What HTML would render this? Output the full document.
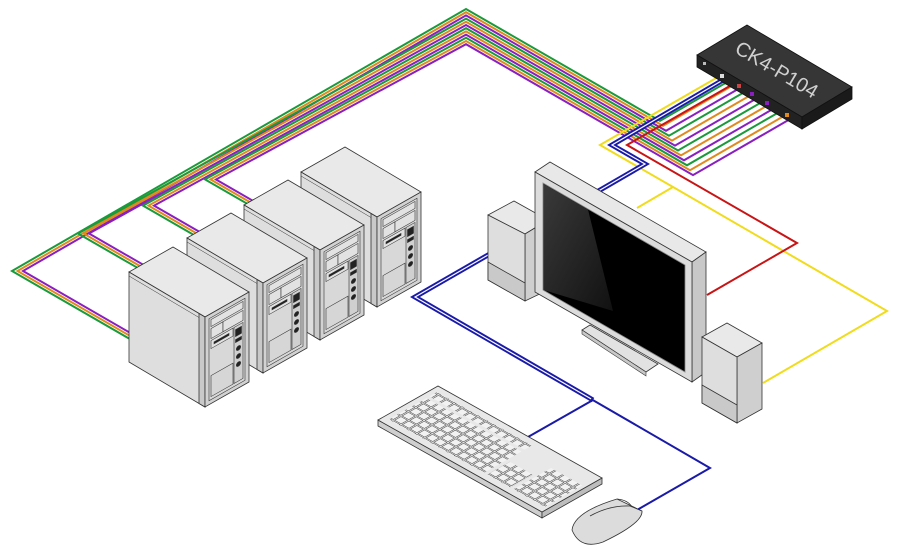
<!DOCTYPE html>
<html><head><meta charset="utf-8"><style>
html,body{margin:0;padding:0;background:#fff;}
svg{display:block;}
</style></head><body>
<svg width="900" height="556" viewBox="0 0 900 556" xmlns="http://www.w3.org/2000/svg">
<defs>
<pattern id="keys" patternUnits="userSpaceOnUse" width="4.8" height="5">
<rect x="0.4" y="0.4" width="4" height="4.2" fill="#f2f2f2" stroke="#333" stroke-width="0.3"/>
</pattern>
<linearGradient id="hl" x1="0" y1="0" x2="1" y2="1">
<stop offset="0" stop-color="#3a3a3a"/><stop offset="1" stop-color="#111"/>
</linearGradient>
</defs>

<!-- bundle cables -->
<g fill="none" stroke-width="2" stroke-linejoin="miter">
<path stroke="#1a9a3a" d="M129,338.5 L12,271 L466,9 L660,120.9 L725.7,82.9"/>
<path stroke="#e08a1e" d="M129,335.3 L17.5,271 L466,12.2 L663,125.8 L731.4,86.3"/>
<path stroke="#8a1fc0" d="M129,332.2 L23,271 L466,15.4 L666,130.8 L737.1,89.6"/>
<path stroke="#1a9a3a" d="M187,296.4 L78,233.5 L466,18.6 L669,135.7 L742.8,93"/>
<path stroke="#e08a1e" d="M187,293.2 L83.5,233.5 L466,21.8 L672,140.6 L748.5,96.4"/>
<path stroke="#8a1fc0" d="M187,290 L89,233.5 L466,25 L675,145.6 L754.3,99.8"/>
<path stroke="#1a9a3a" d="M244,263.9 L143,205.6 L466,28.2 L678,150.5 L760,103.1"/>
<path stroke="#e08a1e" d="M244,260.7 L148.5,205.6 L466,31.4 L681,155.4 L765.7,106.5"/>
<path stroke="#8a1fc0" d="M244,257.5 L154,205.6 L466,34.6 L684,160.3 L771.4,109.9"/>
<path stroke="#1a9a3a" d="M301,234.8 L205,179.4 L466,37.8 L687,165.3 L777.1,113.2"/>
<path stroke="#e08a1e" d="M301,231.6 L210.5,179.4 L466,41 L690,170.2 L782.8,116.6"/>
<path stroke="#8a1fc0" d="M301,228.5 L216,179.5 L466,44.2 L693,175.1 L788.5,120"/>
</g>

<!-- yellow / red / blue -->
<g fill="none" stroke-linejoin="miter">
<path stroke="#f0dc1c" stroke-width="2" d="M718,77 L600,145 L673,187 L887,311 L763,383"/>
<path stroke="#f0dc1c" stroke-width="2" d="M673,187 L637,208"/>
<path stroke="#c81414" stroke-width="2" d="M735,83 L627,145 L797,243 L707,295"/>
<path stroke="#1a1aa8" stroke-width="5" d="M723,80 L612,145 L645,164 L488,255 L415,297 L593,400"/>
<path stroke="#fff" stroke-width="1.2" d="M723,80 L612,145 L645,164 L488,255 L415,297 L593,400"/>
<path stroke="#1a1aa8" stroke-width="2" d="M591,399 L710,468 L637,510"/>
<path stroke="#1a1aa8" stroke-width="2" d="M593,400 L528,437"/>
</g>

<!-- KVM box -->
<g stroke="#111" stroke-width="0.8">
<polygon points="697,55 747,25 852,87 802,117" fill="#363636"/>
<polygon points="697,55 802,117 802,129 697,67" fill="#222"/>
<polygon points="802,117 852,87 852,99 802,129" fill="#1a1a1a"/>
</g>
<text x="0" y="0" transform="translate(776,71) rotate(30.6)" text-anchor="middle" dominant-baseline="middle" font-family="Liberation Sans, sans-serif" font-size="20" fill="#d0d0d0">CK4-P104</text>
<g fill="#bbb">
<rect x="703" y="62" width="3" height="3"/>
<rect x="720" y="74" width="4" height="4" fill="#ddd"/>
<rect x="737" y="84" width="4" height="4" fill="#c44"/>
<rect x="750" y="92" width="4" height="4" fill="#8a1fc0"/>
<rect x="765" y="101" width="4" height="4" fill="#8a1fc0"/>
<rect x="785" y="113" width="4" height="4" fill="#e08a1e"/>
</g>

<!-- towers (back to front) -->
<g id="t4" transform="translate(301,172)" stroke="#333" stroke-width="0.8">
<polygon points="0,0 44,-25 120,20 76,45" fill="#e9e9e9"/>
<polygon points="0,0 76,45 76,135 0,90" fill="#dedede"/>
<polygon points="70,41.5 76,45 76,135 70,131.5" fill="#c9c9c9"/>
<polygon points="76,45 120,20 120,110 76,135" fill="#d2d2d2"/>
<line x1="0" y1="4" x2="70" y2="45.5" stroke-width="0.5"/>
<g transform="matrix(1,-0.568,0,1,76,45)" stroke-width="0.6">
<rect x="4" y="4" width="36" height="82" fill="#d8d8d8"/>
<rect x="6" y="6" width="32" height="7" fill="#e2e2e2"/>
<rect x="6" y="15" width="12" height="10" fill="#e2e2e2"/>
<rect x="18" y="15" width="20" height="10" fill="#e2e2e2"/>
<rect x="6" y="27" width="22" height="8" fill="#e2e2e2"/>
<rect x="9" y="30" width="15" height="2" fill="#222"/>
<rect x="29" y="27" width="9" height="56" fill="#d0d0d0"/>
<rect x="30.5" y="30" width="6" height="7" fill="#222"/>
<rect x="30.5" y="40" width="6" height="3" fill="#222"/>
<circle cx="33.5" cy="50" r="2.2" fill="#222"/>
<circle cx="33.5" cy="58" r="2.2" fill="#222"/>
<circle cx="33.5" cy="66" r="2.2" fill="#222"/>
<rect x="6" y="62" width="22" height="21" fill="#d6d6d6"/>
</g>
</g>
<use href="#t4" transform="translate(-57,33)"/>
<use href="#t4" transform="translate(-114,66)"/>
<use href="#t4" transform="translate(-172,100)"/>

<!-- monitor stand -->
<polygon points="582,330 590,325 658,364 646,372" fill="#e2e2e2" stroke="#333" stroke-width="0.8"/>
<polygon points="582,330 646,372 646,376 582,334" fill="#c8c8c8" stroke="#333" stroke-width="0.6"/>

<!-- left speaker -->
<g stroke="#333" stroke-width="0.8">
<polygon points="488,215 514,201 548,220 525,234" fill="#e9e9e9"/>
<polygon points="525,234 548,220 548,290 525,301" fill="#cfcfcf"/>
<polygon points="488,215 525,234 525,301 488,280" fill="#dedede"/>
<polygon points="488,262 525,283 525,301 488,280" fill="#c9c9c9"/>
</g>

<!-- monitor -->
<g stroke="#333" stroke-width="0.8">
<polygon points="535,172 550,162 706,252 692,262" fill="#e8e8e8"/>
<polygon points="692,262 706,252 706,372 692,382" fill="#c8c8c8"/>
<polygon points="535,172 692,262 692,382 535,292" fill="#dcdcdc"/>
<polygon points="543,183 685,265 685,372 543,290" fill="#000" stroke="#888"/>
</g>
<polygon points="543.5,184 588,209.5 613,311 543.5,290" fill="url(#hl)"/>

<!-- right speaker -->
<g stroke="#333" stroke-width="0.8">
<polygon points="702,337 727,323 762,343 737,357" fill="#e9e9e9"/>
<polygon points="737,357 762,343 762,409 737,423" fill="#cfcfcf"/>
<polygon points="702,337 737,357 737,423 702,403" fill="#dedede"/>
<polygon points="702,385 737,405 737,423 702,403" fill="#c9c9c9"/>
</g>

<!-- keyboard -->
<g stroke="#333" stroke-width="0.8">
<polygon points="378,420 542,512 542,518 378,426" fill="#cfcfcf"/>
<polygon points="542,512 602,478 602,484 542,518" fill="#bdbdbd"/>
<polygon points="378,420 438,386 602,478 542,512" fill="#e8e8e8"/>
</g>
<g transform="matrix(1.64,0.92,1.5,-0.85,378,420)">
<rect x="3" y="4" width="58" height="25" fill="url(#keys)"/>
<rect x="3" y="31" width="58" height="5" fill="url(#keys)"/>
<rect x="63" y="4" width="14" height="15" fill="url(#keys)"/>
<rect x="79" y="4" width="19" height="25" fill="url(#keys)"/>
</g>

<!-- mouse -->
<g stroke="#333" stroke-width="0.8">
<path d="M572,530 Q574,512 617,499 L642,511 Q643,523 603,542 Q580,550 572,530 Z" fill="#dcdcdc"/>
<path d="M590,516 Q610,505 630,506 L642,511" fill="none"/>
<path d="M617,499 Q628,500 632,507" fill="none"/>
</g>
</svg>
</body></html>
